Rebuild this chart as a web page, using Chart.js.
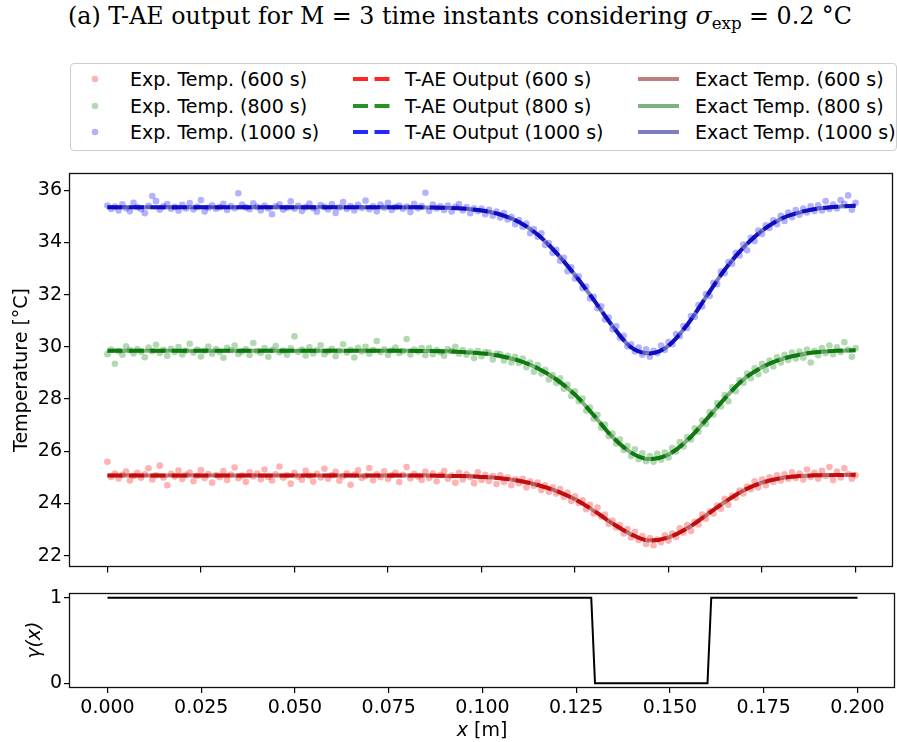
<!DOCTYPE html>
<html lang="en">
<head>
<meta charset="utf-8">
<title>T-AE output, M = 3</title>
<script src="https://cdn.jsdelivr.net/npm/chart.js@4.4.1/dist/chart.umd.min.js"></script>
<style>
    html, body { margin: 0; padding: 0; background: #fff; }
    #page { position: relative; width: 897px; height: 742px; overflow: hidden; font-family: 'DejaVu Sans', sans-serif; color: #000; }
    #title { position: absolute; left: 460px; top: 5px; transform: translateX(-50%); white-space: nowrap; font-family: 'DejaVu Serif', serif; font-size: 21px; line-height: 1.164; }
    #title sub { font-size: 0.7em; vertical-align: -0.3em; line-height: 0; }
    #legendBox { position: absolute; left: 70px; top: 63px; width: 827px; height: 88px; border: 1px solid #cccccc; border-radius: 4px; box-sizing: border-box; }
    .legend-item { position: absolute; height: 22px; display: flex; align-items: center; font-size: 19px; white-space: nowrap; }
    .legend-item svg { flex: none; }
    #mainChart { position: absolute; left: 0; top: 160px; }
    #gammaChart { position: absolute; left: 0; top: 580px; }
    #xlabel { position: absolute; left: 482px; top: 718px; transform: translateX(-50%); font-size: 19px; line-height: 22px; white-space: nowrap; }
</style>
</head>
<body>
<div id="page">
    <div id="title">(a) T-AE output for M = 3 time instants considering <i>σ</i><sub>exp</sub> = 0.2 °C</div>
    <div id="legendBox"></div>
    <canvas id="mainChart" width="897" height="420"></canvas>
    <canvas id="gammaChart" width="897" height="162"></canvas>
    <div id="xlabel"><i>x</i> [m]</div>
</div>
<script>
// sensor grid: x = 0 ... 0.2 m, one reading every millimetre
const SENSOR_STEP = 0.001;
// exact / T-AE curves sampled every 5 mm
const CURVE_STEP = 0.005;

const timeLabels = ['600 s', '800 s', '1000 s'];

const xTicks = [0, 0.025, 0.05, 0.075, 0.1, 0.125, 0.15, 0.175, 0.2];
const tempTicks = [22, 24, 26, 28, 30, 32, 34, 36];
const gammaTicks = [0, 1];

// measured (noisy) temperatures, °C
const exp600 = [
    25.60, 25.02, 25.15, 24.96, 25.10, 25.22, 24.88, 25.05, 25.18, 24.99,
    25.12, 25.35, 24.92, 25.08, 25.45, 25.00, 24.70, 25.14, 25.03, 25.26,
    24.94, 25.10, 25.19, 24.85, 25.06, 25.28, 24.98, 25.13, 24.80, 25.09,
    25.01, 25.24, 24.90, 25.11, 25.38, 24.97, 25.07, 24.83, 25.20, 25.04,
    25.15, 24.93, 25.30, 25.02, 24.88, 25.12, 25.42, 24.99, 25.08, 24.76,
    25.18, 25.03, 24.91, 25.25, 25.06, 24.84, 25.14, 25.00, 25.33, 24.95,
    25.09, 25.21, 24.87, 25.04, 25.16, 24.72, 25.11, 25.27, 24.98, 25.05,
    25.36, 24.89, 25.12, 25.01, 25.23, 24.94, 25.08, 25.18, 24.82, 25.10,
    25.40, 24.96, 25.14, 25.03, 24.90, 25.21, 24.98, 25.15, 24.85, 25.09,
    25.24, 24.95, 25.07, 24.80, 25.18, 24.92, 25.12, 25.01, 24.78, 25.20,
    24.90, 25.10, 24.86, 25.05, 24.75, 25.08, 24.82, 24.99, 24.70, 24.93,
    24.78, 24.95, 24.62, 24.85, 24.68, 24.80, 24.52, 24.70, 24.45, 24.62,
    24.38, 24.55, 24.25, 24.42, 24.10, 24.28, 24.02, 24.12, 23.78, 23.95,
    23.62, 23.85, 23.50, 23.58, 23.22, 23.35, 23.08, 23.18, 22.85, 23.02,
    22.70, 22.92, 22.60, 22.75, 22.45, 22.68, 22.40, 22.62, 22.52, 22.78,
    22.58, 22.85, 22.72, 23.05, 22.88, 23.18, 22.95, 23.30, 23.20, 23.58,
    23.42, 23.70, 23.62, 23.92, 23.80, 24.18, 23.95, 24.30, 24.22, 24.50,
    24.38, 24.65, 24.55, 24.85, 24.62, 24.92, 24.70, 25.00, 24.82, 25.08,
    24.88, 25.12, 24.95, 25.20, 24.98, 25.15, 24.92, 25.30, 25.02, 25.18,
    24.95, 25.25, 25.05, 25.40, 24.90, 25.22, 25.00, 25.35, 25.12, 24.95,
    25.08
];
const exp800 = [
    29.72, 29.90, 29.35, 29.84, 29.70, 30.02, 29.88, 29.75, 29.92, 29.81,
    29.60, 29.97, 29.83, 30.08, 29.76, 29.89, 29.66, 29.93, 29.80, 29.99,
    29.71, 29.86, 30.12, 29.78, 29.90, 29.63, 29.85, 30.01, 29.74, 29.92,
    29.80, 29.58, 29.96, 29.87, 30.05, 29.73, 29.82, 29.91, 29.69, 30.15,
    29.84, 29.77, 29.95, 29.62, 29.88, 30.03, 29.79, 29.86, 29.70, 29.94,
    30.40, 29.81, 29.90, 29.67, 29.98, 29.75, 29.87, 30.06, 29.72, 29.83,
    29.93, 29.64, 29.85, 30.10, 29.78, 29.89, 29.59, 29.96, 29.82, 30.00,
    29.74, 29.88, 30.22, 29.80, 29.91, 29.69, 29.86, 29.97, 29.76, 29.84,
    30.30, 29.71, 29.90, 29.82, 29.95, 29.68, 29.95, 29.72, 29.88, 29.79,
    29.66, 29.92, 29.84, 30.00, 29.74, 29.88, 29.70, 29.82, 29.57, 29.85,
    29.64, 29.80, 29.78, 29.52, 29.74, 29.72, 29.48, 29.66, 29.40, 29.62,
    29.38, 29.55, 29.22, 29.40, 29.05, 29.30, 28.98, 29.12, 28.75, 28.92,
    28.62, 28.80, 28.40, 28.55, 28.12, 28.30, 27.92, 28.02, 27.55, 27.68,
    27.25, 27.40, 26.90, 27.02, 26.58, 26.68, 26.30, 26.45, 26.05, 26.20,
    25.82, 26.08, 25.70, 25.92, 25.62, 25.82, 25.60, 25.90, 25.68, 25.95,
    25.76, 26.12, 25.98, 26.35, 26.18, 26.55, 26.45, 26.88, 26.75, 27.18,
    27.05, 27.50, 27.40, 27.85, 27.72, 28.15, 27.92, 28.45, 28.30, 28.72,
    28.62, 28.98, 28.80, 29.18, 28.95, 29.35, 29.10, 29.48, 29.25, 29.60,
    29.40, 29.70, 29.50, 29.78, 29.55, 29.82, 29.58, 29.90, 29.40, 29.85,
    29.68, 29.95, 29.76, 30.05, 29.72, 29.98, 29.80, 30.18, 29.90, 29.62,
    29.95
];
const exp1000 = [
    35.41, 35.28, 35.37, 35.22, 35.46, 35.31, 35.19, 35.52, 35.35, 35.27,
    35.12, 35.40, 35.78, 35.58, 35.25, 35.38, 35.47, 35.29, 35.36, 35.21,
    35.44, 35.30, 35.51, 35.26, 35.37, 35.62, 35.18, 35.33, 35.42, 35.29,
    35.35, 35.48, 35.24, 35.39, 35.31, 35.88, 35.45, 35.34, 35.27, 35.50,
    35.36, 35.22, 35.41, 35.30, 35.08, 35.38, 35.46, 35.25, 35.33, 35.57,
    35.29, 35.40, 35.20, 35.35, 35.49, 35.31, 35.17, 35.43, 35.36, 35.26,
    35.47, 35.13, 35.34, 35.55, 35.28, 35.39, 35.22, 35.44, 35.32, 35.60,
    35.27, 35.38, 35.19, 35.45, 35.33, 35.52, 35.24, 35.36, 35.41, 35.29,
    35.37, 35.16, 35.48, 35.31, 35.39, 35.90, 35.20, 35.45, 35.30, 35.38,
    35.24, 35.41, 35.18, 35.36, 35.47, 35.22, 35.35, 35.12, 35.31, 35.20,
    35.30, 35.08, 35.25, 35.02, 35.18, 34.95, 35.12, 34.88, 34.98, 34.70,
    34.86, 34.60, 34.72, 34.35, 34.51, 34.22, 34.35, 33.90, 33.98, 33.60,
    33.72, 33.30, 33.41, 32.90, 33.05, 32.62, 32.70, 32.25, 32.31, 31.85,
    31.92, 31.48, 31.55, 31.05, 31.12, 30.68, 30.79, 30.35, 30.42, 30.02,
    30.10, 29.82, 29.97, 29.70, 29.91, 29.62, 29.85, 29.76, 30.05, 29.88,
    30.18, 30.10, 30.49, 30.41, 30.80, 30.72, 31.18, 31.15, 31.60, 31.55,
    32.02, 31.95, 32.45, 32.40, 32.88, 32.82, 33.25, 33.18, 33.60, 33.50,
    33.92, 33.70, 34.18, 34.05, 34.45, 34.32, 34.66, 34.55, 34.85, 34.70,
    35.02, 34.82, 35.14, 34.96, 35.24, 35.06, 35.30, 35.15, 35.38, 35.20,
    35.42, 35.22, 35.58, 35.28, 35.45, 35.30, 35.62, 35.48, 35.80, 35.25,
    35.52
];

// T-AE reconstruction, °C (every 5 mm)
const tae600 = [
    25.07, 25.07, 25.07, 25.07, 25.07, 25.07, 25.07, 25.07, 25.07, 25.07,
    25.07, 25.07, 25.07, 25.07, 25.07, 25.07, 25.07, 25.07, 25.06, 25.05,
    25.02, 24.97, 24.87, 24.71, 24.48, 24.16, 23.73, 23.24, 22.82, 22.58,
    22.70, 23.05, 23.55, 24.05, 24.50, 24.80, 24.97, 25.05, 25.08, 25.09,
    25.10
];
const tae800 = [
    29.85, 29.85, 29.85, 29.85, 29.85, 29.85, 29.85, 29.85, 29.85, 29.85,
    29.85, 29.85, 29.85, 29.85, 29.85, 29.85, 29.85, 29.84, 29.83, 29.80,
    29.75, 29.65, 29.47, 29.18, 28.75, 28.17, 27.38, 26.55, 25.95, 25.70,
    25.88, 26.42, 27.20, 28.02, 28.75, 29.22, 29.52, 29.70, 29.80, 29.85,
    29.87
];
const tae1000 = [
    35.35, 35.35, 35.35, 35.35, 35.35, 35.35, 35.35, 35.35, 35.35, 35.35,
    35.35, 35.35, 35.35, 35.35, 35.35, 35.35, 35.35, 35.34, 35.33, 35.30,
    35.22, 35.07, 34.78, 34.30, 33.60, 32.75, 31.80, 30.80, 29.98, 29.75,
    30.05, 30.85, 31.90, 32.95, 33.80, 34.45, 34.90, 35.15, 35.30, 35.37,
    35.40
];

// exact temperatures, °C (every 5 mm)
const exact600 = [
    25.07, 25.07, 25.07, 25.07, 25.07, 25.07, 25.07, 25.07, 25.07, 25.07,
    25.07, 25.07, 25.07, 25.07, 25.07, 25.07, 25.07, 25.07, 25.06, 25.05,
    25.02, 24.97, 24.87, 24.71, 24.48, 24.16, 23.73, 23.24, 22.82, 22.58,
    22.70, 23.05, 23.55, 24.05, 24.50, 24.80, 24.97, 25.05, 25.08, 25.09,
    25.10
];
const exact800 = [
    29.85, 29.85, 29.85, 29.85, 29.85, 29.85, 29.85, 29.85, 29.85, 29.85,
    29.85, 29.85, 29.85, 29.85, 29.85, 29.85, 29.85, 29.84, 29.83, 29.80,
    29.75, 29.65, 29.47, 29.18, 28.75, 28.17, 27.38, 26.55, 25.95, 25.70,
    25.88, 26.42, 27.20, 28.02, 28.75, 29.22, 29.52, 29.70, 29.80, 29.85,
    29.87
];
const exact1000 = [
    35.35, 35.35, 35.35, 35.35, 35.35, 35.35, 35.35, 35.35, 35.35, 35.35,
    35.35, 35.35, 35.35, 35.35, 35.35, 35.35, 35.35, 35.34, 35.33, 35.30,
    35.22, 35.07, 34.78, 34.30, 33.60, 32.75, 31.80, 30.80, 29.98, 29.75,
    30.05, 30.85, 31.90, 32.95, 33.80, 34.45, 34.90, 35.15, 35.30, 35.37,
    35.40
];

// gamma(x) indicator
const gammaX = [0, 0.129, 0.130, 0.160, 0.161, 0.2];
const gammaY = [1, 1, 0, 0, 1, 1];

(function () {
    const FONT = { family: 'DejaVu Sans', size: 19 };
    const X_MIN = -0.01, X_MAX = 0.21;

    // title: fit the reference width (784 px) with its baseline at y = 25
    const title = document.getElementById('title');
    const fitted = 21 * 784 / title.getBoundingClientRect().width;
    title.style.fontSize = fitted.toFixed(2) + 'px';
    title.style.top = (25 - 0.928 * fitted).toFixed(1) + 'px';

    const series = [
        { time: timeLabels[0], exp: exp600, tae: tae600, exact: exact600,
          expColor: 'rgba(255, 0, 0, 0.3)', taeColor: 'rgba(255, 0, 0, 0.85)', exactColor: 'rgba(128, 0, 0, 0.5)' },
        { time: timeLabels[1], exp: exp800, tae: tae800, exact: exact800,
          expColor: 'rgba(0, 128, 0, 0.3)', taeColor: 'rgba(0, 128, 0, 0.85)', exactColor: 'rgba(0, 100, 0, 0.5)' },
        { time: timeLabels[2], exp: exp1000, tae: tae1000, exact: exact1000,
          expColor: 'rgba(0, 0, 255, 0.3)', taeColor: 'rgba(0, 0, 255, 0.85)', exactColor: 'rgba(0, 0, 128, 0.5)' }
    ];

    function toPoints(step, values) {
        return values.map((y, i) => ({ x: i * step, y: y }));
    }

    // full box around the plot area, like matplotlib spines
    const frame = {
        id: 'frame',
        afterDraw(chart) {
            const { ctx, chartArea: a } = chart;
            ctx.save();
            ctx.strokeStyle = '#111';
            ctx.lineWidth = 1.3;
            ctx.strokeRect(Math.round(a.left) - 0.5, Math.round(a.top) + 0.5,
                Math.round(a.right - a.left), Math.round(a.bottom - a.top));
            ctx.restore();
        }
    };

    function tickGrid() {
        return { drawOnChartArea: false, drawTicks: true, tickLength: 6, color: '#000', lineWidth: 1.2 };
    }

    function xScale(showLabels, height) {
        return {
            type: 'linear',
            min: X_MIN,
            max: X_MAX,
            afterBuildTicks: s => { s.ticks = xTicks.map(v => ({ value: v })); },
            afterFit: s => { s.height = height; },
            grid: tickGrid(),
            border: { display: false },
            ticks: {
                display: showLabels,
                font: FONT,
                color: '#000',
                padding: 4,
                maxRotation: 0,
                autoSkip: false,
                callback: v => Number(v).toFixed(3)
            }
        };
    }

    function yScale(min, max, ticks, title, titleOffset, titleStyle) {
        return {
            min: min,
            max: max,
            afterBuildTicks: s => { s.ticks = ticks.map(v => ({ value: v })); },
            afterFit: s => { s.width = 70; },
            grid: tickGrid(),
            border: { display: false },
            ticks: { font: FONT, color: '#000', padding: 2, autoSkip: false },
            title: {
                display: true,
                text: title,
                color: '#000',
                font: Object.assign({}, FONT, { style: titleStyle || 'normal' }),
                padding: { top: titleOffset, bottom: 0 }
            }
        };
    }

    const datasets = [];
    series.forEach(s => {
        datasets.push({
            label: 'Exp. Temp. (' + s.time + ')',
            data: toPoints(SENSOR_STEP, s.exp),
            showLine: false,
            pointRadius: 3.3,
            pointBorderWidth: 0,
            pointBackgroundColor: s.expColor,
            order: 3
        });
    });
    series.forEach(s => {
        datasets.push({
            label: 'T-AE Output (' + s.time + ')',
            data: toPoints(CURVE_STEP, s.tae),
            borderColor: s.taeColor,
            borderWidth: 4,
            borderDash: [15, 6.5],
            pointRadius: 0,
            cubicInterpolationMode: 'monotone',
            order: 2
        });
    });
    series.forEach(s => {
        datasets.push({
            label: 'Exact Temp. (' + s.time + ')',
            data: toPoints(CURVE_STEP, s.exact),
            borderColor: s.exactColor,
            borderWidth: 4,
            pointRadius: 0,
            cubicInterpolationMode: 'monotone',
            order: 1
        });
    });

    new Chart(document.getElementById('mainChart'), {
        type: 'line',
        data: { datasets: datasets },
        options: {
            responsive: false,
            animation: false,
            devicePixelRatio: 1,
            layout: { padding: { top: 9, right: 2, left: 0, bottom: 0 } },
            plugins: { legend: { display: false }, tooltip: { enabled: false } },
            scales: {
                x: xScale(false, 13),
                y: yScale(21.584, 36.643, tempTicks, 'Temperature [°C]', 10.3)
            }
        },
        plugins: [frame]
    });

    new Chart(document.getElementById('gammaChart'), {
        type: 'line',
        data: {
            datasets: [{
                label: 'γ(x)',
                data: gammaX.map((x, i) => ({ x: x, y: gammaY[i] })),
                borderColor: '#000',
                borderWidth: 2,
                pointRadius: 0,
                tension: 0
            }]
        },
        options: {
            responsive: false,
            animation: false,
            devicePixelRatio: 1,
            layout: { padding: { top: 8, right: 2, left: 0, bottom: 0 } },
            plugins: { legend: { display: false }, tooltip: { enabled: false } },
            scales: {
                x: xScale(true, 55),
                y: yScale(-0.045, 1.05, gammaTicks, 'γ(x)', 24, 'italic')
            }
        },
        plugins: [frame]
    });

    // matplotlib-style legend: 3 columns, filled column by column
    const page = document.getElementById('page');
    const handleLeft = [75, 353, 638];
    const textLeft = [130, 405, 695];
    const rowCenter = [79, 106, 132];

    function handleSvg(kind, color, width) {
        if (kind === 'dot') {
            return `<svg width="${width}" height="22"><circle cx="20" cy="11" r="3.3" fill="${color}"/></svg>`;
        }
        const dash = kind === 'dash' ? 'stroke-dasharray="15 6.5"' : '';
        return `<svg width="${width}" height="22"><line x1="0" y1="11" x2="41" y2="11" stroke="${color}" stroke-width="4" ${dash}/></svg>`;
    }

    const columns = [
        { kind: 'dot', name: 'Exp. Temp.', color: 'expColor' },
        { kind: 'dash', name: 'T-AE Output', color: 'taeColor' },
        { kind: 'line', name: 'Exact Temp.', color: 'exactColor' }
    ];

    columns.forEach((col, c) => {
        series.forEach((s, r) => {
            const item = document.createElement('div');
            item.className = 'legend-item';
            item.style.left = handleLeft[c] + 'px';
            item.style.top = (rowCenter[r] - 11) + 'px';
            item.innerHTML = handleSvg(col.kind, s[col.color], textLeft[c] - handleLeft[c]) +
                `<span>${col.name} (${s.time})</span>`;
            page.appendChild(item);
        });
    });
})();
</script>
</body>
</html>
